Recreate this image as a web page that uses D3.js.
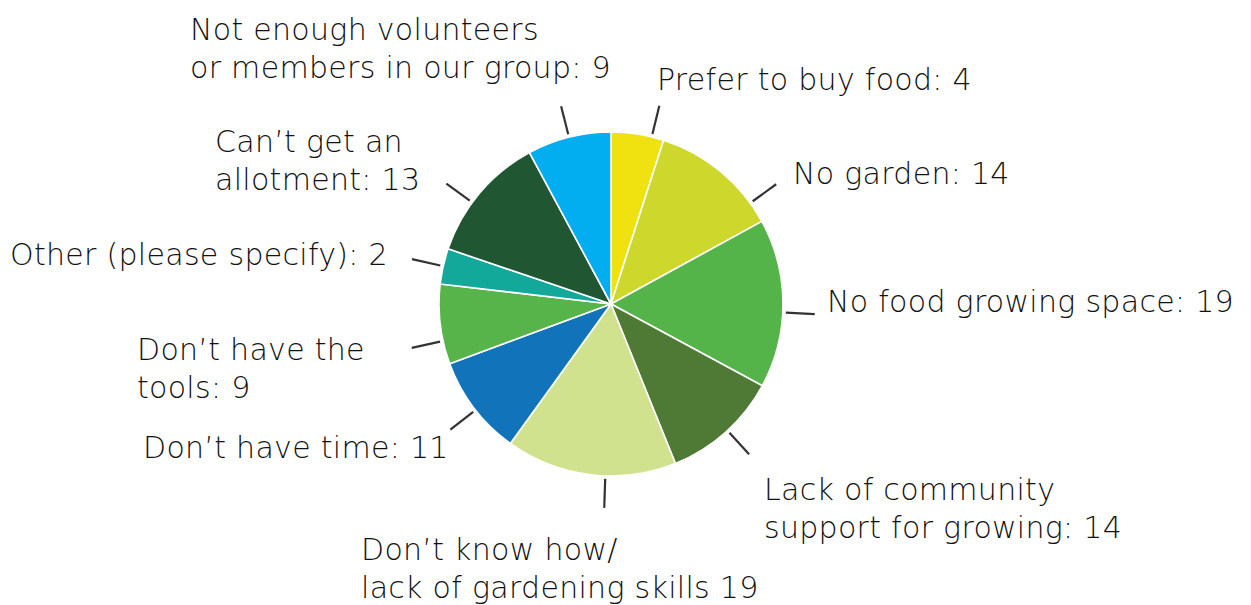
<!DOCTYPE html>
<html>
<head>
<meta charset="utf-8">
<script src="https://cdn.jsdelivr.net/npm/d3@7"></script>
<style>
  html, body { margin: 0; padding: 0; background: #fff; }
  svg { display: block; }
  .lbl { font-family: "DejaVu Sans", sans-serif; font-size: 30px; font-weight: 300; letter-spacing: 0.3px; fill: #111; }
</style>
</head>
<body>
<div id="chart"></div>
<script>
// reasons people don't grow food (survey counts)
const categories = [
  'Prefer to buy food', 'No garden', 'No food growing space',
  'Lack of community support for growing', 'Don\u2019t know how/ lack of gardening skills',
  'Don\u2019t have time', 'Don\u2019t have the tools', 'Other (please specify)',
  'Can\u2019t get an allotment', 'Not enough volunteers or members in our group',
];
const counts = [4, 14, 19, 14, 19, 11, 9, 2, 13, 9];
// slice sizes as drawn in the original (degrees) - small slices are drawn larger than their share
const sliceDegrees = [17.8, 43.5, 57.1, 39.6, 57.8, 33.9, 27.0, 12.0, 43.0, 28.3];
const colors = ['#f0e110', '#cdd72c', '#55b449', '#4f7a35', '#d1e28f', '#1173ba', '#56b44a', '#12a89a', '#205632', '#02aeef'];
// label text lines as printed
const labelLines = [
  ['Prefer to buy food: 4'],
  ['No garden: 14'],
  ['No food growing space: 19'],
  ['Lack of community', 'support for growing: 14'],
  ['Don\u2019t know how/', 'lack of gardening skills 19'],
  ['Don\u2019t have time: 11'],
  ['Don\u2019t have the', 'tools: 9'],
  ['Other (please specify): 2'],
  ['Can\u2019t get an', 'allotment: 13'],
  ['Not enough volunteers', 'or members in our group: 9'],
];

// layout: label anchor (left x, first baseline) and leader tick nudge (deg)
const labelPos = [
  [657, 90], [793, 184], [827, 312], [764, 500], [361, 560],
  [143, 458], [137, 360], [10, 265], [215, 152], [190, 40],
];
const tickNudge = [4.8, 14.5, 3, -0.8, -5, -0.8, -5.6, 0, -4, 0];

const width = 1251, height = 605;
const cx = 611, cy = 304, radius = 172;
const lineH = 38;

const svg = d3.select('#chart').append('svg')
  .attr('width', width).attr('height', height);

const g = svg.append('g').attr('transform', `translate(${cx},${cy})`);

const pie = d3.pie().sort(null).value((d) => d)
  .startAngle(0).endAngle(2 * Math.PI);
const arcs = pie(sliceDegrees);
const arc = d3.arc().innerRadius(0).outerRadius(radius);

g.selectAll('path.slice')
  .data(arcs)
  .join('path')
  .attr('class', 'slice')
  .attr('d', arc)
  .attr('fill', (d, i) => colors[i])
  .attr('stroke', '#fff')
  .attr('stroke-width', 1.6)
  .attr('stroke-linejoin', 'round');

// leader ticks
const r0 = radius + 3, r1 = radius + 32;
arcs.forEach((a, i) => {
  const ang = (a.startAngle + a.endAngle) / 2 + tickNudge[i] * Math.PI / 180;
  const sx = Math.sin(ang), sy = -Math.cos(ang);
  g.append('line')
    .attr('x1', sx * r0).attr('y1', sy * r0)
    .attr('x2', sx * r1).attr('y2', sy * r1)
    .attr('stroke', '#333')
    .attr('stroke-width', 2.2);
});

// labels
labelLines.forEach((lines, i) => {
  const t = svg.append('text')
    .attr('class', 'lbl')
    .attr('x', labelPos[i][0])
    .attr('y', labelPos[i][1]);
  lines.forEach((ln, j) => {
    t.append('tspan')
      .attr('x', labelPos[i][0])
      .attr('y', labelPos[i][1] + j * lineH)
      .text(ln);
  });
});
</script>
</body>
</html>
